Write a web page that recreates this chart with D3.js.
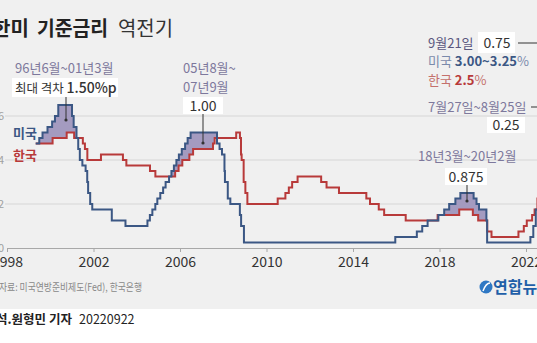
<!DOCTYPE html>
<html><head><meta charset="utf-8">
<script src="https://cdn.jsdelivr.net/npm/d3@7"></script>
<style>html,body{margin:0;padding:0;background:#f0f0f0;overflow:hidden}
text{font-family:"Noto Sans CJK KR","Noto Sans",sans-serif}</style>
</head><body><svg id="c" width="537" height="343"></svg>
<script>
// US federal funds target rate (upper bound) — change dates and values
const usDates = ["1999-05-01","1999-06-30","1999-08-24","1999-11-16","2000-02-02","2000-03-21","2000-05-16","2001-01-03","2001-01-31","2001-03-20","2001-04-18","2001-05-15","2001-06-27","2001-08-21","2001-09-17","2001-10-02","2001-11-06","2001-12-11","2002-11-06","2003-06-25","2004-06-30","2004-08-10","2004-09-21","2004-11-10","2004-12-14","2005-02-02","2005-03-22","2005-05-03","2005-06-30","2005-08-09","2005-09-20","2005-11-01","2005-12-13","2006-01-31","2006-03-28","2006-05-10","2006-06-29","2007-09-18","2007-10-31","2007-12-11","2008-01-22","2008-01-30","2008-03-18","2008-04-30","2008-10-08","2008-10-29","2008-12-16","2015-12-16","2016-12-14","2017-03-15","2017-06-14","2017-12-13","2018-03-21","2018-06-13","2018-09-26","2018-12-19","2019-07-31","2019-09-18","2019-10-30","2020-03-03","2020-03-15","2022-03-16","2022-05-04","2022-06-15","2022-07-27","2022-09-21"];
const usRates = [4.75,5.00,5.25,5.50,5.75,6.00,6.50,6.00,5.50,5.00,4.50,4.00,3.75,3.50,3.00,2.50,2.00,1.75,1.25,1.00,1.25,1.50,1.75,2.00,2.25,2.50,2.75,3.00,3.25,3.50,3.75,4.00,4.25,4.50,4.75,5.00,5.25,4.75,4.50,4.25,3.50,3.00,2.25,2.00,1.50,1.00,0.25,0.50,0.75,1.00,1.25,1.50,1.75,2.00,2.25,2.50,2.25,2.00,1.75,1.25,0.25,0.50,1.00,1.75,2.50,3.25];
// Korea base rate — change dates and values
const krDates = ["1999-05-01","2000-02-10","2000-10-05","2001-02-08","2001-07-05","2001-08-09","2001-09-19","2002-05-07","2003-05-13","2003-07-10","2004-08-12","2004-11-11","2005-10-11","2005-12-08","2006-02-09","2006-06-08","2006-08-10","2007-07-12","2007-08-09","2008-08-07","2008-10-09","2008-10-27","2008-11-07","2008-12-11","2009-01-09","2009-02-12","2010-07-09","2010-11-16","2011-01-13","2011-03-10","2011-06-10","2012-07-12","2012-10-11","2013-05-09","2014-08-14","2014-10-15","2015-03-12","2015-06-11","2016-06-09","2017-11-30","2018-11-30","2019-07-18","2019-10-16","2020-03-17","2020-05-28","2021-08-26","2021-11-25","2022-01-14","2022-04-14","2022-05-26","2022-07-13","2022-08-25"];
const krRates = [4.75,5.00,5.25,5.00,4.75,4.50,4.00,4.25,4.00,3.75,3.50,3.25,3.50,3.75,4.00,4.25,4.50,4.75,5.00,5.25,5.00,4.25,4.00,3.00,2.50,2.00,2.25,2.50,2.75,3.00,3.25,3.00,2.75,2.50,2.25,2.00,1.75,1.50,1.25,1.50,1.75,1.50,1.25,0.75,0.50,0.75,1.00,1.25,1.50,1.75,2.25,2.50];
const endDate = "2022-09-22";
const inversionStarts = ["1999-06-30","2005-08-09","2018-03-21","2022-07-27"];
const inversionEnds = ["2001-03-20","2007-09-18","2020-03-03","2022-09-22"];
const xTickYears = [1998,2002,2006,2010,2014,2018,2022];
const yTickValues = [0,2,4,6];

const parse = d3.timeParse("%Y-%m-%d");
const svg = d3.select("#c");
const W = 537, H = 343;

svg.append("rect").attr("width",W).attr("height",H).attr("fill","#f0f0f0");
svg.append("rect").attr("y",309).attr("width",W).attr("height",H-309).attr("fill","#ffffff");

const x = d3.scaleTime().domain([new Date(1998,0,1), new Date(2023,0,1)]).range([7, 7+25*21.625]);
const y = d3.scaleLinear().domain([0,6]).range([248,116]);

// grid
svg.append("g").selectAll("line").data(yTickValues.filter(v=>v>0)).join("line")
  .attr("x1",5).attr("x2",W).attr("y1",d=>y(d)).attr("y2",d=>y(d))
  .attr("stroke","#d6d6d6").attr("stroke-width",1);
svg.append("g").selectAll("text").data(yTickValues).join("text")
  .attr("x",4).attr("y",d=>y(d)+4).attr("text-anchor","end")
  .attr("font-size",11).attr("fill","#a0a0a0").text(d=>d);

// x axis
const xAxis = d3.axisBottom(x).tickValues(xTickYears.map(yr=>new Date(yr,0,1)))
  .tickFormat(d3.timeFormat("%Y")).tickSize(4).tickPadding(5);
const gx = svg.append("g").attr("transform","translate(0,248)").call(xAxis);
gx.select(".domain").attr("stroke","#a8a8a8");
gx.selectAll(".tick line").attr("stroke","#a8a8a8");
gx.selectAll(".tick text").attr("font-size",14).attr("fill","#333")
  .attr("font-family","'Noto Sans CJK KR','Noto Sans',sans-serif");

function series(dates, rates){
  const pts = dates.map((d,i)=>({date:parse(d), v:rates[i]}));
  pts.push({date:parse(endDate), v:rates[rates.length-1]});
  return pts;
}
const us = series(usDates, usRates);
const kr = series(krDates, krRates);
function valAt(s, dt){ let v = s[0].v; for(const p of s){ if(p.date<=dt) v=p.v; else break;} return v; }

// inversion fills
const allDates = Array.from(new Set(usDates.concat(krDates))).map(parse).sort((a,b)=>a-b);
const area = d3.area().curve(d3.curveStepAfter)
  .x(d=>x(d.date)).y0(d=>y(d.kr)).y1(d=>y(Math.max(d.us,d.kr)));
inversionStarts.forEach((s,i)=>{
  const a = parse(s), b = parse(inversionEnds[i]);
  const ds = [a].concat(allDates.filter(d=>d>a && d<b)).concat([b]);
  const pts = ds.map(d=>({date:d, us:valAt(us,d), kr:valAt(kr,d)}));
  svg.append("path").datum(pts).attr("d",area).attr("fill","#a49bc0");
});

const line = d3.line().curve(d3.curveStepAfter).x(d=>x(d.date)).y(d=>y(d.v));
svg.append("path").datum(kr).attr("d",line).attr("fill","none").attr("stroke","#b83a3a").attr("stroke-width",2);
svg.append("path").datum(us).attr("d",line).attr("fill","none").attr("stroke","#3b5784").attr("stroke-width",2);

// series labels
svg.append("text").attr("x",13).attr("y",138).attr("font-size",13).attr("font-weight","bold").attr("fill","#3b5784").text("미국");
svg.append("text").attr("x",13).attr("y",160).attr("font-size",13).attr("font-weight","bold").attr("fill","#b83a3a").text("한국");

const dateCol = "#7d789c";
function box(x0,y0,w,h){ svg.append("rect").attr("x",x0).attr("y",y0).attr("width",w).attr("height",h).attr("fill","#fff"); }
function pointer(px,y0,y1){
  svg.append("line").attr("x1",px).attr("x2",px).attr("y1",y0).attr("y2",y1).attr("stroke","#333").attr("stroke-width",1);
  svg.append("circle").attr("cx",px).attr("cy",y1).attr("r",1.6).attr("fill","#333");
}

// annotation 1
svg.append("text").attr("x",15).attr("y",73).attr("font-size",13).attr("fill",dateCol).text("96년6월~01년3월");
box(12,78,106,19);
const t1 = svg.append("text").attr("x",15).attr("y",93).attr("fill","#333");
t1.append("tspan").attr("font-size",12.5).text("최대 격차 ");
t1.append("tspan").attr("font-size",14).attr("font-weight","500").text("1.50%p");
pointer(66,97,120);

// annotation 2
svg.append("text").attr("x",183).attr("y",73).attr("font-size",13).attr("fill",dateCol).text("05년8월~");
svg.append("text").attr("x",183).attr("y",92).attr("font-size",13).attr("fill",dateCol).text("07년9월");
box(183,97,40,17);
svg.append("text").attr("x",203).attr("y",111).attr("text-anchor","middle").attr("font-size",14).attr("fill","#333").text("1.00");
pointer(203,114,143);

// annotation 3
svg.append("text").attr("x",418).attr("y",161).attr("font-size",13).attr("fill",dateCol).text("18년3월~20년2월");
box(445,168,42,17);
svg.append("text").attr("x",466).attr("y",182).attr("text-anchor","middle").attr("font-size",14).attr("fill","#333").text("0.875");
pointer(467,185,201);

// right annotations
svg.append("text").attr("x",428).attr("y",48).attr("font-size",13).attr("fill","#5a567e").text("9월21일");
box(478,32,37,21);
svg.append("text").attr("x",497).attr("y",48).attr("text-anchor","middle").attr("font-size",14).attr("fill","#333").text("0.75");
svg.append("line").attr("x1",518).attr("x2",W).attr("y1",43).attr("y2",43).attr("stroke","#333");
const t2 = svg.append("text").attr("x",428).attr("y",66).attr("font-size",13);
t2.append("tspan").attr("fill","#7a8aab").text("미국 ");
t2.append("tspan").attr("fill","#3b5784").attr("font-weight","bold").text("3.00~3.25");
t2.append("tspan").attr("fill","#7a8aab").text("%");
const t3 = svg.append("text").attr("x",428).attr("y",85).attr("font-size",13);
t3.append("tspan").attr("fill","#c4706c").text("한국 ");
t3.append("tspan").attr("fill","#b83a3a").attr("font-weight","bold").text("2.5");
t3.append("tspan").attr("fill","#c4706c").text("%");
svg.append("text").attr("x",428).attr("y",112).attr("font-size",13).attr("fill",dateCol).text("7월27일~8월25일");
svg.append("line").attr("x1",531).attr("x2",W).attr("y1",107).attr("y2",107).attr("stroke","#333");
box(487,117,38,16);
svg.append("text").attr("x",506).attr("y",130).attr("text-anchor","middle").attr("font-size",14).attr("fill","#333").text("0.25");

// title
svg.append("text").attr("x",-8).attr("y",36).attr("font-size",20).attr("font-weight","bold").attr("fill","#222").text("한미");
svg.append("text").attr("x",37).attr("y",36).attr("font-size",20).attr("font-weight","bold").attr("fill","#222")
  .attr("textLength",71).attr("lengthAdjust","spacingAndGlyphs").text("기준금리");
svg.append("text").attr("x",118).attr("y",36).attr("font-size",20).attr("fill","#333")
  .attr("textLength",55).attr("lengthAdjust","spacingAndGlyphs").text("역전기");

// source, credit, logo
svg.append("text").attr("x",-1).attr("y",291).attr("font-size",10.5).attr("fill","#888")
  .attr("textLength",143).attr("lengthAdjust","spacingAndGlyphs").text("자료: 미국연방준비제도(Fed), 한국은행");
const cr = svg.append("text").attr("y",324).attr("font-size",12.5).attr("fill","#222");
cr.append("tspan").attr("x",-4).attr("font-weight","bold").text("석.원형민 기자");
cr.append("tspan").attr("x",79).attr("font-weight","normal").text("20220922");
svg.append("circle").attr("cx",486).attr("cy",287).attr("r",6.5).attr("fill","#2f78c4");
svg.append("path").attr("d","M483,291 Q486,283 490,283").attr("fill","none").attr("stroke","#fff").attr("stroke-width",1.5);
svg.append("text").attr("x",493).attr("y",293).attr("font-size",16).attr("font-weight","bold").attr("fill","#1f5fa8").text("연합뉴스");
</script></body></html>
